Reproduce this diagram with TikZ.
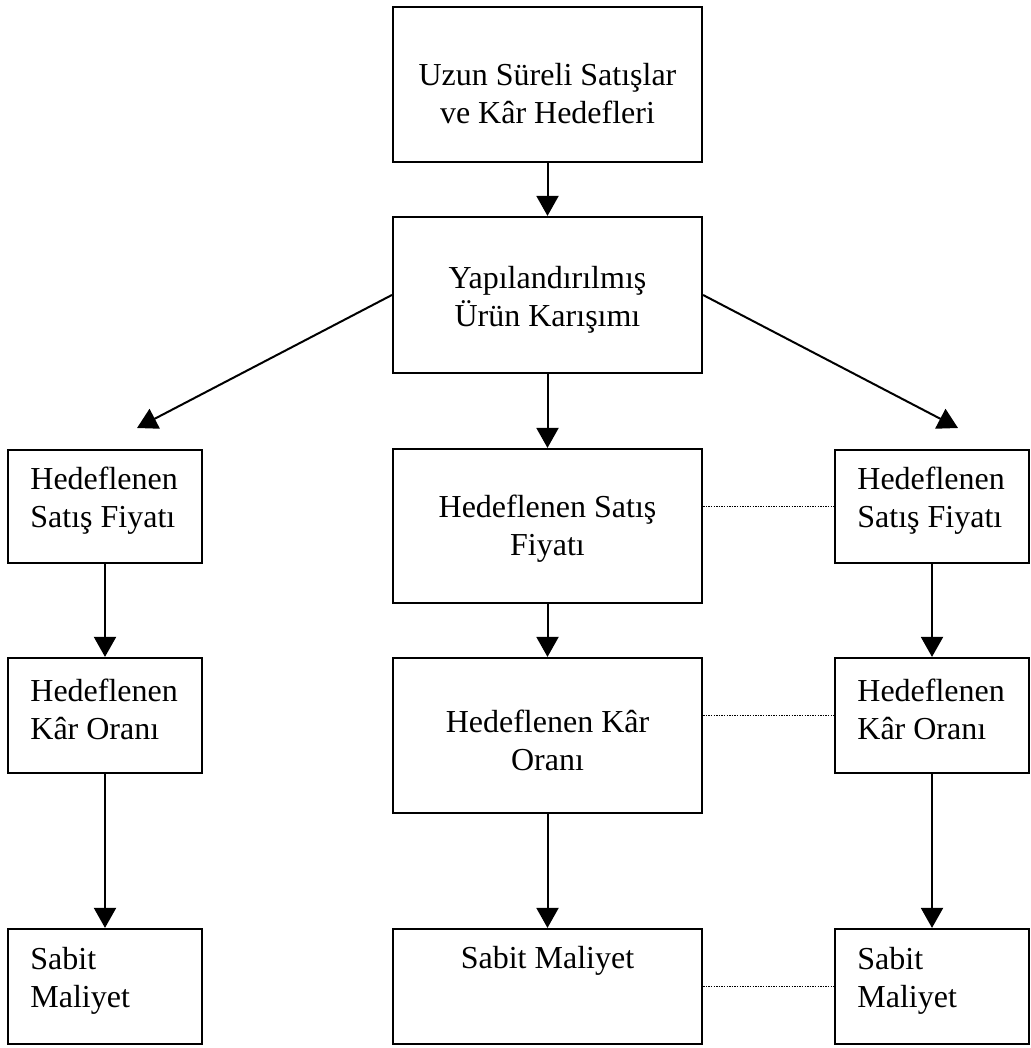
\documentclass[tikz,border=0pt]{standalone}
\usepackage{fontspec}
\setmainfont{Liberation Serif}
\usetikzlibrary{arrows.meta}
\begin{document}
\begin{tikzpicture}[x=0.5pt,y=-0.5pt,
  box/.style={draw, line width=1.1pt, inner sep=0pt},
  midbox/.style={box, minimum width=154.5pt},
  sidebox/.style={box, minimum width=97pt},
  txt/.style={font=\fontsize{16}{19}\selectfont, align=center, inner sep=0pt},
  sidetxt/.style={font=\fontsize{16}{19}\selectfont, align=left, anchor=west, inner sep=0pt},
  conn/.style={line width=1pt, -{Triangle[width=11pt,length=10pt]}},
  link/.style={line width=0.8pt, dash pattern=on 0.7pt off 0.6pt}]

\useasboundingbox (0,0) rectangle (1031,1048);

% middle column
\node[midbox, minimum height=77.5pt] (top) at (547.5,84.5) {};
\node[txt] (toptxt) at (547.5,94) {Uzun Süreli Satışlar\\ve Kâr Hedefleri};
\node[midbox, minimum height=78pt] (yap) at (547.5,295) {};
\node[txt] (yaptxt) at (547.5,300) {Yapılandırılmış\\Ürün Karışımı};
\node[midbox, minimum height=77pt] (msat) at (547.5,526) {};
\node[txt] (msattxt) at (547.5,529) {Hedeflenen Satış\\Fiyatı};
\node[midbox, minimum height=77.5pt] (mkar) at (547.5,735.5) {};
\node[txt] (mkartxt) at (547.5,740) {Hedeflenen Kâr\\Oranı};
\node[midbox, minimum height=57.5pt] (msab) at (547.5,986.5) {};
\node[txt] (msabtxt) at (547.5,961) {Sabit Maliyet};

% left column
\node[sidebox, minimum height=56.5pt] (lsat) at (105,506.5) {};
\node[sidetxt] (lsattxt) at (30,501) {Hedeflenen\\Satış Fiyatı};
\node[sidebox, minimum height=57.5pt] (lkar) at (105,715.5) {};
\node[sidetxt] (lkartxt) at (30,709) {Hedeflenen\\Kâr Oranı};
\node[sidebox, minimum height=57.5pt] (lsab) at (105,986.5) {};
\node[sidetxt] (lsabtxt) at (30,980.5) {Sabit\\Maliyet};

% right column
\node[sidebox, minimum height=56.5pt] (rsat) at (932,506.5) {};
\node[sidetxt] (rsattxt) at (857,501) {Hedeflenen\\Satış Fiyatı};
\node[sidebox, minimum height=57.5pt] (rkar) at (932,715.5) {};
\node[sidetxt] (rkartxt) at (857,709) {Hedeflenen\\Kâr Oranı};
\node[sidebox, minimum height=57.5pt] (rsab) at (932,986.5) {};
\node[sidetxt] (rsabtxt) at (857,980.5) {Sabit\\Maliyet};

% free ends of the two diagonal arrows
\coordinate (ltip) at (137,428);
\coordinate (rtip) at (958,428);

% arrows
\draw[conn] (top) -- (yap);
\draw[conn] (yap) -- (msat);
\draw[conn] (yap.west) -- (ltip);
\draw[conn] (yap.east) -- (rtip);
\draw[conn] (msat) -- (mkar);
\draw[conn] (mkar) -- (msab);
\draw[conn] (lsat) -- (lkar);
\draw[conn] (lkar) -- (lsab);
\draw[conn] (rsat) -- (rkar);
\draw[conn] (rkar) -- (rsab);

% dotted links between middle and right columns
\draw[link] (msat.east |- rsat.west) -- (rsat.west);
\draw[link] (mkar.east |- rkar.west) -- (rkar.west);
\draw[link] (msab.east |- rsab.west) -- (rsab.west);
\end{tikzpicture}
\end{document}
